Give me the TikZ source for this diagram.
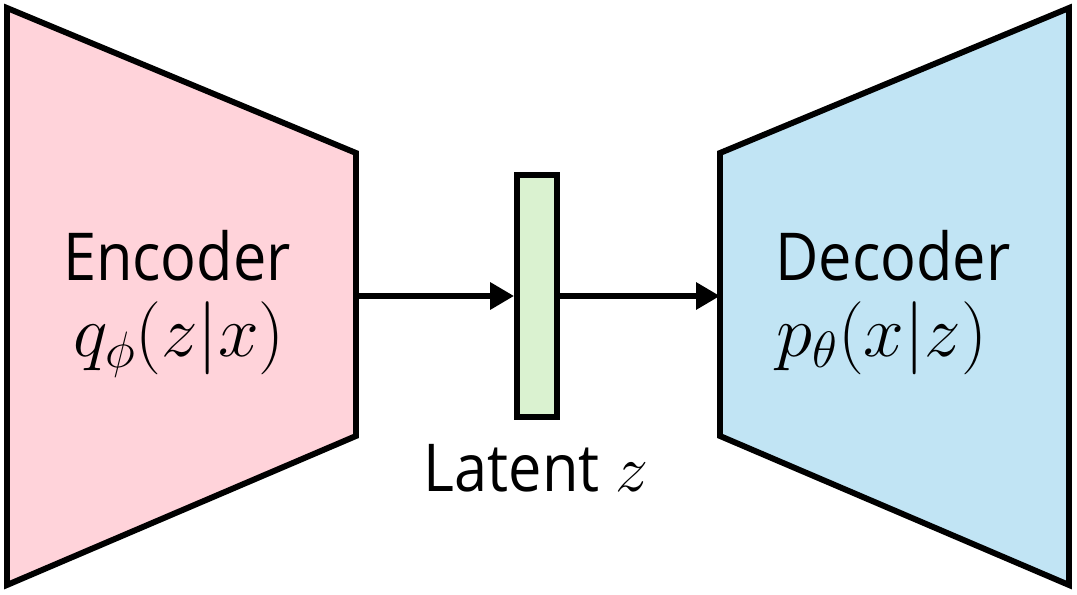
\RequirePackage{fix-cm}
\documentclass[tikz,border=0pt]{standalone}
\usepackage{fontspec}
\setmainfont{Open Sans}[FakeStretch=0.9]
\usepackage{tikz}
\usetikzlibrary{arrows.meta}

\definecolor{encpink}{RGB}{255,211,218}
\definecolor{decblue}{RGB}{193,228,244}
\definecolor{latgreen}{RGB}{218,242,208}

\begin{document}
\begin{tikzpicture}[x=0.25mm,y=-0.25mm,
  block/.style={draw,line width=4.2pt,line join=miter},
  lbl/.style={anchor=base,inner sep=0pt,font=\fontsize{47}{56}\selectfont},
  mlbl/.style={anchor=base,inner sep=0pt,font=\fontsize{52}{60}\selectfont},
  arr/.style={line width=4.2pt,-{Triangle[length=17pt,width=18.5pt]}}]
\useasboundingbox (0,0) rectangle (1077,595);
\def\ym{296}

% encoder
\draw[block,fill=encpink] (7,8) -- (356,153) -- (356,436) -- (7,585) -- cycle;
\coordinate (encR) at (356,\ym);
\node[lbl] (encT) at (177,281) {Encoder};
\node[mlbl] (encM) at (179,357) {$q_\phi(z|x)$};

% decoder
\draw[block,fill=decblue] (720,153) -- (1069,8) -- (1069,585) -- (720,436) -- cycle;
\coordinate (decL) at (720,\ym);
\node[lbl] (decT) at (893,281) {Decoder};
\node[mlbl] (decM) at (882,357) {$p_\theta(x|z)$};

% latent
\node[block,fill=latgreen,minimum width=34*0.25mm+4.2pt,minimum height=236*0.25mm+4.2pt,inner sep=0pt] (lat) at (537,\ym) {};
\node[lbl] (latT) at (536,492) {Latent $z$};

\draw[arr] (encR) -- (lat.west);
\draw[arr] (lat.east) -- (decL);
\end{tikzpicture}
\end{document}
